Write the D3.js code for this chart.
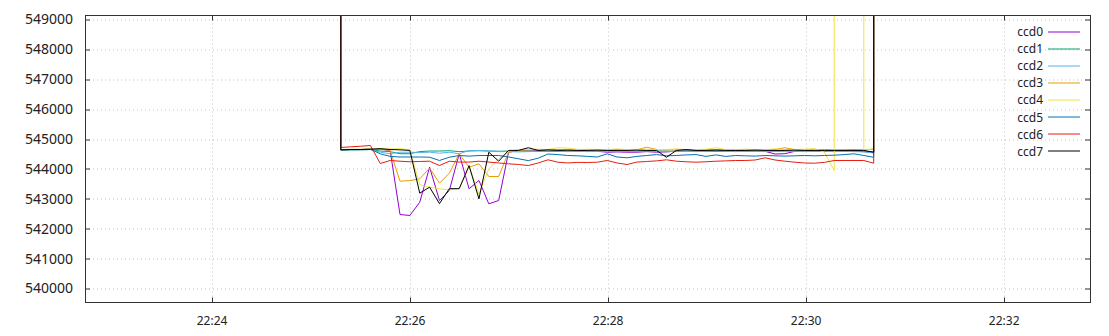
<!DOCTYPE html>
<html>
<head>
<meta charset="utf-8">
<script src="https://cdn.jsdelivr.net/npm/d3@7"></script>
<style>
	body { margin: 0; background: #fff; }
	svg { display: block; font-family: 'Noto Sans', sans-serif; }
	.grid line { stroke: #c4c4c4; stroke-width: 1; stroke-dasharray: 1,3; }
	.tick-label { font-size: 12px; fill: #222; }
	.y-label { font-size: 14px; }
	.legend-text { font-size: 12px; fill: #222; }
</style>
</head>
<body>
<svg id="chart"></svg>
<script>
// samples: first and last (and two ccd4 ones) are overflow readings, far above the axis
const sampleStart = '22:25:18';
const sampleStepSeconds = 5.98;

const seriesNames = ['ccd0', 'ccd1', 'ccd2', 'ccd3', 'ccd4', 'ccd5', 'ccd6', 'ccd7'];
const seriesColors = ['#9400d3', '#009e73', '#56b4e9', '#e69f00', '#f0e442', '#0072b2', '#e51e10', '#000000'];

const ccd0 = [1e7,
	544640, 544650, 544650, 544660, 544660, 544620, 542476, 542443, 542888, 544059,
	542944, 543279, 544507, 543336, 543614, 542834, 542944, 544560, 544617, 544600,
	544610, 544600, 544590, 544600, 544600, 544590, 544590, 544560, 544570, 544560,
	544560, 544580, 544560, 544570, 544600, 544610, 544600, 544600, 544590, 544600,
	544610, 544600, 544600, 544590, 544500, 544510, 544590, 544600, 544600, 544590,
	544600, 544600, 544590, 544580, 544540,
	1e7];
const ccd1 = [1e7,
	544630, 544640, 544640, 544650, 544600, 544580, 544510, 544510, 544580, 544600,
	544600, 544610, 544580, 544600, 544610, 544600, 544590, 544600, 544610, 544600,
	544590, 544600, 544610, 544600, 544590, 544600, 544600, 544610, 544600, 544590,
	544600, 544610, 544600, 544600, 544590, 544600, 544610, 544600, 544600, 544590,
	544600, 544600, 544610, 544600, 544590, 544600, 544600, 544610, 544600, 544590,
	544600, 544600, 544590, 544600, 544570,
	1e7];
const ccd2 = [1e7,
	544630, 544640, 544640, 544650, 544560, 544510, 544560, 544560, 544550, 544560,
	544527, 544560, 544507, 544617, 544620, 544600, 544590, 544580, 544570, 544580,
	544590, 544600, 544590, 544580, 544590, 544580, 544590, 544600, 544590, 544580,
	544590, 544600, 544590, 544580, 544590, 544590, 544580, 544590, 544600, 544590,
	544580, 544590, 544590, 544580, 544590, 544600, 544590, 544580, 544590, 544590,
	544580, 544590, 544580, 544570, 544540,
	1e7];
const ccd3 = [1e7,
	544640, 544650, 544650, 544660, 544670, 544620, 543590, 543610, 543670, 544030,
	543523, 543858, 544507, 544059, 544172, 543747, 543747, 544560, 544620, 544640,
	544650, 544640, 544650, 544640, 544640, 544650, 544640, 544640, 544650, 544640,
	544640, 544728, 544650, 544640, 544640, 544650, 544640, 544640, 544650, 544640,
	544640, 544650, 544640, 544640, 544650, 544708, 544650, 544640, 544640, 544650,
	544640, 544640, 544650, 544640, 544660,
	1e7];
const ccd4 = [1e7,
	544650, 544660, 544660, 544670, 544680, 544670, 544680, 544640, 543470, 543389,
	543336, 543300, 543340, 544080, 543169, 544000, 544330, 544600, 544650, 544650,
	544660, 544650, 544710, 544700, 544650, 544660, 544650, 544650, 544670, 544650,
	544650, 544660, 544650, 544650, 544670, 544650, 544650, 544660, 544710, 544650,
	544650, 544660, 544650, 544650, 544670, 544650, 544650, 544660, 544680, 544560,
	543950, 1e7, 1e7, 544620, 544690,
	1e7];
const ccd5 = [1e7,
	544640, 544650, 544650, 544660, 544507, 544420, 544400, 544400, 544400, 544393,
	544283, 544393, 544450, 544430, 544450, 544450, 544450, 544400, 544340, 544280,
	544360, 544500, 544480, 544450, 544440, 544420, 544400, 544507, 544400, 544373,
	544420, 544450, 544480, 544440, 544450, 544470, 544480, 544420, 544470, 544420,
	544450, 544440, 544430, 544450, 544440, 544430, 544440, 544450, 544440, 544450,
	544460, 544480, 544507, 544450, 544390,
	1e7];
const ccd6 = [1e7,
	544718, 544740, 544760, 544785, 544182, 544283, 544259, 544240, 544250, 544259,
	544115, 544259, 544230, 544230, 544259, 544230, 544200, 544172, 544150, 544115,
	544200, 544306, 544226, 544200, 544220, 544215, 544226, 544283, 544200, 544149,
	544230, 544250, 544270, 544306, 544260, 544240, 544226, 544240, 544259, 544270,
	544283, 544283, 544300, 544373, 544300, 544260, 544226, 544200, 544192, 544220,
	544283, 544283, 544283, 544283, 544192,
	1e7];
const ccd7 = [1e7,
	544640, 544650, 544650, 544660, 544680, 544650, 544640, 544620, 543190, 543390,
	542840, 543340, 543340, 544110, 543000, 544560, 544260, 544620, 544620, 544710,
	544620, 544640, 544620, 544630, 544620, 544620, 544630, 544620, 544620, 544620,
	544630, 544620, 544620, 544390, 544620, 544650, 544620, 544620, 544630, 544620,
	544620, 544620, 544630, 544620, 544620, 544620, 544630, 544620, 544620, 544620,
	544620, 544620, 544620, 544620, 544560,
	1e7];

const seriesValues = [ccd0, ccd1, ccd2, ccd3, ccd4, ccd5, ccd6, ccd7];

const xDomain = ['22:22:43', '22:32:52'];
const xTickLabels = ['22:24', '22:26', '22:28', '22:30', '22:32'];
const yDomain = [539532, 549134];
const yTickValues = [540000, 541000, 542000, 543000, 544000, 545000, 546000, 547000, 548000, 549000];

class LineChart {
	constructor(_config) {
		this.config = {
			parentElement: _config.parentElement,
			containerWidth: 1109,
			containerHeight: 336,
			margin: { top: 15.5, right: 19, bottom: 33.5, left: 85 },
			tickLength: 5,
		};
		this.initVis();
	}

	initVis() {
		let vis = this;
		vis.width = vis.config.containerWidth - vis.config.margin.left - vis.config.margin.right;
		vis.height = vis.config.containerHeight - vis.config.margin.top - vis.config.margin.bottom;

		vis.svg = d3.select(vis.config.parentElement)
			.attr('width', vis.config.containerWidth)
			.attr('height', vis.config.containerHeight);

		vis.chart = vis.svg.append('g')
			.attr('transform', `translate(${vis.config.margin.left},${vis.config.margin.top})`);

		const parseTime = d3.timeParse('%H:%M:%S');
		const parseTick = d3.timeParse('%H:%M');

		vis.xScale = d3.scaleTime()
			.domain(xDomain.map(parseTime))
			.range([0, vis.width]);
		vis.yScale = d3.scaleLinear()
			.domain(yDomain)
			.range([vis.height, 0]);

		vis.xTicks = xTickLabels.map(parseTick);

		// sample times, evenly spaced from the first reading
		const start = parseTime(sampleStart);
		vis.series = seriesNames.map((name, k) => ({
			name: name,
			color: seriesColors[k],
			values: seriesValues[k].map((v, i) => ({
				time: new Date(start.getTime() + (i - 1) * sampleStepSeconds * 1000),
				value: v,
			})),
		}));

		vis.renderVis();
	}

	renderVis() {
		let vis = this;
		const tl = vis.config.tickLength;

		// dotted grid
		const grid = vis.chart.append('g').attr('class', 'grid');
		grid.selectAll('.gx')
			.data(vis.xTicks)
			.join('line')
			.attr('x1', d => Math.round(vis.xScale(d)) + 0.5)
			.attr('x2', d => Math.round(vis.xScale(d)) + 0.5)
			.attr('y1', 0)
			.attr('y2', vis.height);
		grid.selectAll('.gy')
			.data(yTickValues)
			.join('line')
			.attr('y1', d => Math.round(vis.yScale(d)) + 0.5)
			.attr('y2', d => Math.round(vis.yScale(d)) + 0.5)
			.attr('x1', 0)
			.attr('x2', vis.width);

		vis.chart.append('clipPath')
			.attr('id', 'plot-clip')
			.append('rect')
			.attr('width', vis.width)
			.attr('height', vis.height);

		const line = d3.line()
			.x(d => vis.xScale(d.time))
			.y(d => vis.yScale(d.value));

		vis.chart.append('g')
			.attr('clip-path', 'url(#plot-clip)')
			.selectAll('.series')
			.data(vis.series)
			.join('path')
			.attr('class', 'series')
			.attr('fill', 'none')
			.attr('stroke', d => d.color)
			.attr('stroke-width', 1)
			.attr('stroke-linejoin', 'miter')
			.attr('d', d => line(d.values));

		// border with mirrored inward ticks
		const axes = vis.chart.append('g').attr('stroke', '#333').attr('stroke-width', 1);
		axes.selectAll('.ty')
			.data(yTickValues)
			.join('path')
			.attr('d', d => {
				const y = Math.round(vis.yScale(d)) + 0.5;
				return `M0,${y}h${tl}M${vis.width},${y}h${-tl}`;
			});
		axes.selectAll('.tx')
			.data(vis.xTicks)
			.join('path')
			.attr('d', d => {
				const x = Math.round(vis.xScale(d)) + 0.5;
				return `M${x},${vis.height}v${-tl}M${x},0v${tl}`;
			});
		axes.append('rect')
			.attr('x', 0.5)
			.attr('y', 0)
			.attr('width', vis.width)
			.attr('height', vis.height)
			.attr('fill', 'none');

		vis.chart.selectAll('.y-label')
			.data(yTickValues)
			.join('text')
			.attr('class', 'tick-label y-label')
			.attr('x', -12)
			.attr('y', d => vis.yScale(d))
			.attr('dy', '0.35em')
			.attr('text-anchor', 'end')
			.text(d => d);

		const fmt = d3.timeFormat('%H:%M');
		vis.chart.selectAll('.x-label')
			.data(vis.xTicks)
			.join('text')
			.attr('class', 'tick-label')
			.attr('x', d => vis.xScale(d))
			.attr('y', vis.height + 18)
			.attr('dy', '0.35em')
			.attr('text-anchor', 'middle')
			.text(d => fmt(d));

		// legend, top right inside the frame
		const legend = vis.svg.append('g')
			.attr('transform', 'translate(1043,32)');
		legend.selectAll('.legend-text')
			.data(vis.series)
			.join('text')
			.attr('class', 'legend-text')
			.attr('x', 0)
			.attr('y', (d, i) => i * 17.06)
			.attr('dy', '0.35em')
			.attr('text-anchor', 'end')
			.text(d => d.name);
		legend.selectAll('.legend-line')
			.data(vis.series)
			.join('line')
			.attr('x1', 5)
			.attr('x2', 37)
			.attr('y1', (d, i) => Math.round(i * 17.06))
			.attr('y2', (d, i) => Math.round(i * 17.06))
			.attr('stroke', d => d.color)
			.attr('stroke-width', 1);
	}
}

new LineChart({ parentElement: '#chart' });
</script>
</body>
</html>
